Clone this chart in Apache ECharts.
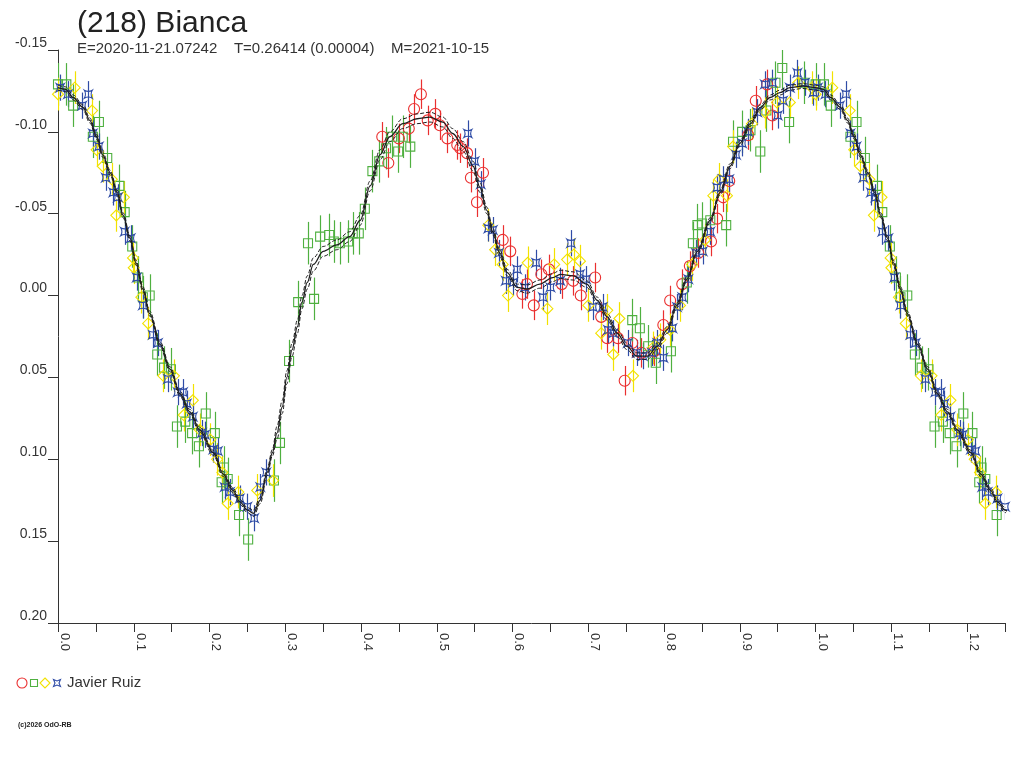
<!DOCTYPE html>
<html>
<head>
<meta charset="utf-8">
<script src="https://cdn.jsdelivr.net/npm/echarts@6/dist/echarts.min.js"></script>
<style>
html,body{margin:0;padding:0;background:#fff;}
#chart{width:1024px;height:768px;}
</style>
</head>
<body>
<div id="chart"></div>
<script>
// ---- Data (phase, reduced magnitude) ----
const titleText = "(218) Bianca";
const subtitleText = "E=2020-11-21.07242    T=0.26414 (0.00004)    M=2021-10-15";
const observer = "Javier Ruiz";
const yTicks = [-0.15, -0.10, -0.05, 0.00, 0.05, 0.10, 0.15, 0.20];

const redPhase = [0.428,0.436,0.450,0.463,0.470,0.479,0.488,0.498,0.504,0.514,0.527,0.531,0.540,0.545,0.553,0.561,0.587,0.597,0.613,0.619,0.628,0.638,0.648,0.665,0.680,0.690,0.709,0.717,0.725,0.739,0.748,0.758,0.770,0.787,0.799,0.808,0.824,0.834,0.845,0.862,0.870,0.878,0.886,0.911,0.921,0.936,0.943];
const redMag = [-0.097,-0.081,-0.096,-0.102,-0.114,-0.123,-0.107,-0.111,-0.104,-0.096,-0.092,-0.090,-0.087,-0.072,-0.057,-0.075,-0.034,-0.027,-0.001,-0.007,0.006,-0.013,-0.016,-0.007,-0.009,0.000,-0.011,0.013,0.026,0.026,0.052,0.029,0.035,0.034,0.018,0.003,-0.007,-0.018,-0.026,-0.033,-0.047,-0.060,-0.070,-0.098,-0.119,-0.129,-0.110];
const redErr = 0.009;

const greenPhase = [0.000,0.011,0.020,0.046,0.054,0.065,0.081,0.088,0.098,0.106,0.112,0.121,0.131,0.140,0.149,0.157,0.168,0.177,0.186,0.195,0.207,0.216,0.219,0.224,0.239,0.251,0.285,0.293,0.305,0.317,0.330,0.338,0.346,0.358,0.364,0.372,0.383,0.389,0.397,0.405,0.415,0.424,0.433,0.441,0.449,0.455,0.465,0.758,0.768,0.779,0.789,0.809,0.830,0.838,0.844,0.850,0.861,0.882,0.891,0.903,0.914,0.927,0.935,0.947,0.956,0.965,0.985];
const greenMag = [-0.129,-0.129,-0.116,-0.097,-0.106,-0.084,-0.067,-0.051,-0.030,-0.011,0.001,0.000,0.036,0.044,0.045,0.080,0.077,0.084,0.092,0.072,0.084,0.114,0.105,0.112,0.134,0.149,0.113,0.090,0.040,0.004,-0.032,0.002,-0.036,-0.037,-0.033,-0.032,-0.033,-0.038,-0.038,-0.053,-0.076,-0.082,-0.090,-0.097,-0.088,-0.097,-0.091,0.015,0.020,0.031,0.041,0.034,-0.008,-0.032,-0.043,-0.044,-0.046,-0.043,-0.094,-0.100,-0.101,-0.088,-0.113,-0.130,-0.139,-0.106,-0.130];
const greenErr = 0.013;

const yellowPhase = [0.000,0.022,0.045,0.051,0.059,0.071,0.077,0.087,0.099,0.100,0.110,0.119,0.139,0.153,0.166,0.178,0.187,0.201,0.210,0.217,0.224,0.238,0.263,0.284,0.568,0.577,0.587,0.594,0.620,0.646,0.655,0.672,0.681,0.689,0.700,0.717,0.725,0.733,0.741,0.759,0.785,0.795,0.808,0.821,0.837,0.854,0.865,0.873,0.883,0.891,0.916,0.933,0.949,0.966,0.977,0.995];
const yellowMag = [-0.123,-0.127,-0.113,-0.089,-0.079,-0.071,-0.049,-0.060,-0.023,-0.017,0.001,0.017,0.049,0.049,0.073,0.064,0.082,0.088,0.100,0.108,0.127,0.120,0.119,0.113,-0.043,-0.028,-0.019,0.000,-0.020,0.008,-0.019,-0.022,-0.025,-0.021,0.006,0.023,0.009,0.036,0.014,0.049,0.032,0.027,0.021,0.006,-0.019,-0.034,-0.061,-0.071,-0.061,-0.091,-0.105,-0.112,-0.118,-0.118,-0.130,-0.127];
const yellowErr = 0.010;

const bluePhase = [0.003,0.013,0.032,0.040,0.046,0.054,0.063,0.073,0.079,0.088,0.096,0.104,0.112,0.125,0.132,0.145,0.158,0.165,0.170,0.178,0.190,0.194,0.205,0.211,0.220,0.227,0.240,0.250,0.259,0.267,0.275,0.541,0.550,0.558,0.568,0.574,0.582,0.591,0.601,0.606,0.616,0.631,0.640,0.650,0.663,0.677,0.689,0.697,0.706,0.719,0.726,0.733,0.752,0.764,0.772,0.784,0.791,0.799,0.811,0.817,0.824,0.832,0.842,0.851,0.861,0.870,0.878,0.886,0.895,0.903,0.911,0.923,0.933,0.943,0.950,0.957,0.966,0.976,0.986,0.997];
const blueMag = [-0.127,-0.123,-0.116,-0.123,-0.099,-0.091,-0.072,-0.063,-0.060,-0.039,-0.035,-0.011,0.006,0.024,0.029,0.051,0.059,0.059,0.066,0.074,0.084,0.085,0.094,0.095,0.117,0.120,0.124,0.129,0.136,0.117,0.108,-0.099,-0.082,-0.068,-0.041,-0.040,-0.026,-0.009,-0.008,-0.016,-0.005,-0.020,0.001,-0.005,-0.009,-0.032,-0.013,-0.010,0.007,0.007,0.021,0.023,0.029,0.035,0.037,0.035,0.029,0.038,0.020,0.007,0.001,-0.010,-0.026,-0.027,-0.039,-0.066,-0.071,-0.071,-0.086,-0.093,-0.100,-0.112,-0.129,-0.130,-0.110,-0.119,-0.127,-0.136,-0.130,-0.124];
const blueErr = 0.008;

const fitPhase = [0.000,0.010,0.020,0.033,0.042,0.051,0.059,0.069,0.078,0.086,0.095,0.103,0.112,0.121,0.135,0.148,0.161,0.174,0.187,0.205,0.218,0.231,0.240,0.250,0.258,0.267,0.276,0.283,0.289,0.296,0.302,0.309,0.316,0.322,0.329,0.337,0.350,0.368,0.385,0.399,0.412,0.425,0.438,0.455,0.474,0.491,0.508,0.521,0.535,0.548,0.557,0.566,0.574,0.583,0.593,0.606,0.619,0.636,0.653,0.663,0.680,0.698,0.712,0.725,0.738,0.751,0.764,0.778,0.791,0.804,0.817,0.830,0.844,0.861,0.874,0.887,0.900,0.914,0.927,0.940,0.953,0.966,0.983,1.000];
const fitMag = [-0.127,-0.126,-0.121,-0.115,-0.107,-0.097,-0.086,-0.075,-0.063,-0.049,-0.035,-0.020,-0.004,0.011,0.030,0.045,0.060,0.071,0.082,0.096,0.109,0.119,0.126,0.131,0.133,0.125,0.108,0.096,0.084,0.068,0.050,0.033,0.019,0.004,-0.008,-0.019,-0.027,-0.031,-0.036,-0.046,-0.067,-0.086,-0.097,-0.105,-0.108,-0.109,-0.106,-0.099,-0.091,-0.079,-0.066,-0.052,-0.039,-0.026,-0.014,-0.005,-0.004,-0.007,-0.011,-0.013,-0.012,-0.007,0.003,0.013,0.023,0.031,0.037,0.037,0.031,0.021,0.006,-0.010,-0.027,-0.046,-0.063,-0.079,-0.093,-0.105,-0.115,-0.121,-0.124,-0.127,-0.128,-0.127];
const fitSig = [0.0015,0.0015,0.0015,0.0015,0.0015,0.0015,0.0015,0.0015,0.0015,0.0015,0.0015,0.0015,0.0015,0.0015,0.0015,0.0015,0.0015,0.0015,0.0015,0.0015,0.0015,0.0015,0.0015,0.0015,0.002,0.002,0.002,0.002,0.004,0.004,0.004,0.004,0.004,0.004,0.004,0.004,0.003,0.003,0.003,0.003,0.003,0.003,0.003,0.003,0.003,0.003,0.003,0.003,0.003,0.003,0.003,0.002,0.002,0.002,0.002,0.002,0.0025,0.0025,0.0025,0.0025,0.0025,0.002,0.002,0.002,0.002,0.002,0.002,0.002,0.002,0.002,0.0015,0.0015,0.0015,0.0015,0.0015,0.0015,0.0015,0.0015,0.0015,0.0015,0.0015,0.0015,0.0015,0.0015];

// ---- Colors / styles ----
const C_RED = '#ea2f2f', C_GREEN = '#4fb040', C_YELLOW = '#f2e200', C_BLUE = '#2f4ca6', C_FIT = '#1e1e1e';
const FONT = "'Liberation Sans', Arial, sans-serif";
const STAR = 'path://M-10,-10 Q0,-4 10,-10 Q4,0 10,10 Q0,4 -10,10 Q-4,0 -10,-10 Z';

// phase-wrapped data: points below 0.255 are repeated one cycle later
function obsData(ph, mg, err) {
  const out = [];
  ph.forEach((p, i) => out.push([p, mg[i], err]));
  ph.forEach((p, i) => { if (p < 0.255) out.push([p + 1, mg[i], err]); });
  return out;
}
function fitData(offsetSign) {
  const out = [];
  fitPhase.forEach((p, i) => out.push([p, fitMag[i] + offsetSign * fitSig[i]]));
  fitPhase.forEach((p, i) => { if (p > 0 && p <= 0.27) out.push([p + 1, fitMag[i] + offsetSign * fitSig[i]]); });
  return out;
}

function errSeries(name, data, color) {
  return {
    name: name + '-err', type: 'custom', data: data, clip: true, z: 2,
    encode: { x: 0, y: 1 },
    renderItem: function (params, api) {
      const x = api.value(0), y = api.value(1), e = api.value(2);
      const a = api.coord([x, y - e]);
      const b = api.coord([x, y + e]);
      return { type: 'line', shape: { x1: Math.round(a[0]) + 0.5, y1: a[1], x2: Math.round(b[0]) + 0.5, y2: b[1] },
               style: { stroke: color, lineWidth: 1.2 } };
    }
  };
}
function markSeries(name, data, color, symbol, size) {
  return {
    name: name, type: 'scatter', data: data, symbol: symbol, symbolSize: size, z: 3, clip: true,
    itemStyle: { color: 'rgba(0,0,0,0)', borderColor: color, borderWidth: 1.1, opacity: 1 },
    emphasis: { disabled: true }
  };
}

const redD = obsData(redPhase, redMag, redErr);
const greenD = obsData(greenPhase, greenMag, greenErr);
const yellowD = obsData(yellowPhase, yellowMag, yellowErr);
const blueD = obsData(bluePhase, blueMag, blueErr);

const chart = echarts.init(document.getElementById('chart'), null, { renderer: 'canvas' });
const option = {
  animation: false,
  backgroundColor: '#ffffff',
  textStyle: { fontFamily: FONT },
  grid: { left: 58, right: 19, top: 50, bottom: 145, containLabel: false },
  xAxis: {
    type: 'value', min: 0, max: 1.25, interval: 0.05,
    axisLine: { show: true, onZero: false, lineStyle: { color: '#333', width: 1 } },
    axisTick: { show: true, length: 9, lineStyle: { color: '#333' } },
    splitLine: { show: false },
    axisLabel: {
      rotate: -90, margin: 10, fontSize: 13, color: '#333', fontFamily: FONT,
      verticalAlign: 'bottom', showMinLabel: true, showMaxLabel: true, hideOverlap: false,
      formatter: function (v) { const k = Math.round(v * 100); return k % 10 === 0 ? (k / 100).toFixed(1) : ''; }
    }
  },
  yAxis: {
    type: 'value', inverse: true, min: yTicks[0], max: yTicks[yTicks.length - 1], interval: 0.05,
    axisLine: { show: true, lineStyle: { color: '#333', width: 1 } },
    axisTick: { show: true, length: 10, lineStyle: { color: '#333' } },
    splitLine: { show: false },
    axisLabel: {
      margin: 11, fontSize: 14, color: '#333', fontFamily: FONT, verticalAlign: 'bottom',
      formatter: function (v) { if (Math.abs(v) < 1e-9) v = 0; return v.toFixed(2); }
    }
  },
  graphic: [
    { type: 'text', x: 77, y: 24, style: { text: titleText, font: "30px 'Liberation Sans', Arial", fill: '#222', verticalAlign: 'middle' } },
    { type: 'text', x: 77, y: 49, style: { text: subtitleText, font: "15px 'Liberation Sans', Arial", fill: '#333', verticalAlign: 'middle' } },
    { type: 'circle', shape: { cx: 22, cy: 683, r: 5 }, style: { fill: 'none', stroke: C_RED, lineWidth: 1.1 } },
    { type: 'rect', shape: { x: 30.5, y: 679.5, width: 7, height: 7 }, style: { fill: 'none', stroke: C_GREEN, lineWidth: 1.1 } },
    { type: 'polygon', shape: { points: [[45, 678], [50, 683], [45, 688], [40, 683]] }, style: { fill: 'none', stroke: C_YELLOW, lineWidth: 1.1 } },
    { type: 'polygon', shape: { points: [[53.5, 679.5], [57, 681], [60.5, 679.5], [59, 683], [60.5, 686.5], [57, 685], [53.5, 686.5], [55, 683]] }, style: { fill: 'none', stroke: C_BLUE, lineWidth: 1.1 } },
    { type: 'text', x: 67, y: 683, style: { text: observer, font: "15px 'Liberation Sans', Arial", fill: '#333', verticalAlign: 'middle' } },
    { type: 'text', x: 18, y: 725, style: { text: '(c)2026 OdO-RB', font: "bold 7px 'Liberation Sans', Arial", fill: '#222', verticalAlign: 'middle' } }
  ],
  series: [
    errSeries('red', redD, C_RED), markSeries('red', redD, C_RED, 'circle', 11),
    errSeries('green', greenD, C_GREEN), markSeries('green', greenD, C_GREEN, 'rect', 9),
    errSeries('yellow', yellowD, C_YELLOW), markSeries('yellow', yellowD, C_YELLOW, 'diamond', 11),
    errSeries('blue', blueD, C_BLUE), markSeries('blue', blueD, C_BLUE, STAR, 8),
    { name: 'fit-up', type: 'line', data: fitData(-1), showSymbol: false, smooth: 0.35, smoothMonotone: 'x', z: 5, clip: true,
      lineStyle: { color: C_FIT, width: 1, type: [4, 2] } },
    { name: 'fit-low', type: 'line', data: fitData(1), showSymbol: false, smooth: 0.35, smoothMonotone: 'x', z: 5, clip: true,
      lineStyle: { color: C_FIT, width: 1, type: [4, 2] } },
    { name: 'fit', type: 'line', data: fitData(0), showSymbol: false, smooth: 0.35, smoothMonotone: 'x', z: 6, clip: true,
      lineStyle: { color: C_FIT, width: 1.3 } }
  ]
};
chart.setOption(option);
</script>
</body>
</html>
